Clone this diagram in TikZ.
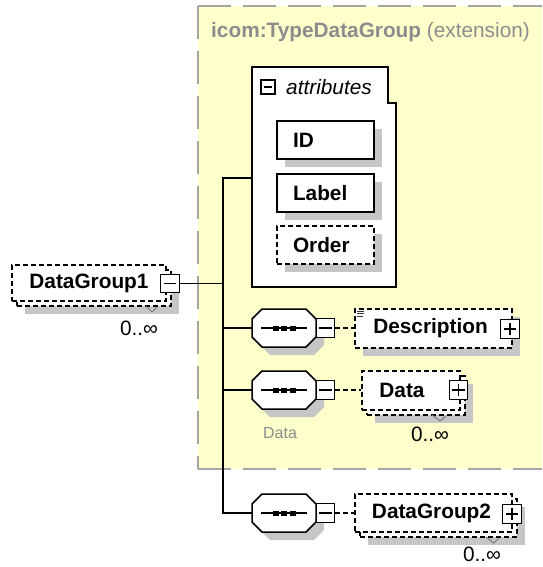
\documentclass[tikz,border=0pt]{standalone}
\usepackage{fontspec}
\setmainfont{Liberation Sans}
\usetikzlibrary{shadows}
\definecolor{ybg}{RGB}{255,255,204}
\definecolor{shd}{RGB}{198,198,198}
\definecolor{ttl}{RGB}{140,140,140}
\definecolor{brd}{RGB}{165,165,165}
\definecolor{tick}{RGB}{120,120,120}
\newcommand\mkseq[2]{%
  \node[minimum width=64pt,minimum height=38pt,inner sep=0pt] (#1) at (#2) {};
  \begin{scope}[shift={(#1.center)}]
    \fill[shd] (-14,-11) -- (30,-11) -- (40,-1) -- (40,17) -- (30,27) -- (-14,27) -- (-24,17) -- (-24,-1) -- cycle;
    \draw[line width=1.5pt, fill=white] (-22,-19) -- (22,-19) -- (32,-9) -- (32,9) -- (22,19) -- (-22,19) -- (-32,9) -- (-32,-9) -- cycle;
    \draw[line width=1.5pt] (-23,0) -- (23,0);
    \fill (-11.5,-2.5) rectangle (-5.5,2.5);
    \fill (-3,-2.5) rectangle (3,2.5);
    \fill (5.5,-2.5) rectangle (11.5,2.5);
  \end{scope}}
\begin{document}
\begin{tikzpicture}[x=1pt,y=-1pt, line join=miter,
  every node/.style={font=\fontsize{20.8}{24}\selectfont},
  conn/.style={line width=1.6pt},
  dconn/.style={line width=1.4pt, dash pattern=on 5pt off 3pt},
  bord/.style={draw=brd, line width=2pt, dash pattern=on 33pt off 12pt},
  shad/.style={general shadow={fill=shd, shadow xshift=8pt, shadow yshift=-8pt}},
  elem/.style={draw, line width=1.4pt, dash pattern=on 5pt off 3pt, fill=white, inner sep=0pt,
    font=\fontsize{20.8}{24}\selectfont\bfseries},
  attrb/.style={draw, line width=1.6pt, fill=white, inner ysep=0pt, inner xsep=16pt,
    text width=65pt, align=left, minimum height=38pt, font=\fontsize{20.8}{24}\selectfont\bfseries, shad},
  pmbox/.style={draw, fill=white, line width=1.4pt, minimum size=18.5pt, inner sep=0pt},
  minusb/.style={pmbox, path picture={\draw[line width=1.5pt] ([xshift=3pt]path picture bounding box.west) -- ([xshift=-3pt]path picture bounding box.east);}},
  plusb/.style={pmbox, path picture={\draw[line width=1.5pt] ([xshift=3pt]path picture bounding box.west) -- ([xshift=-3pt]path picture bounding box.east);
     \draw[line width=1.5pt] ([yshift=-3pt]path picture bounding box.north) -- ([yshift=3pt]path picture bounding box.south);}},
  mult/.style={font=\fontsize{20.8}{24}\selectfont, inner sep=0pt},
  tk/.style={draw=tick, line width=1pt}
]
\useasboundingbox (0,0) rectangle (542,567);
% extension area
\fill[ybg] (198,6) rectangle (542,469);
\draw[bord] (198,6) -- (542,6);
\draw[bord] (198,6) -- (198,469);
\draw[bord] (198,469) -- (542,469);
\node[anchor=west, text=ttl, inner sep=0pt] (title) at (211,32) {\textbf{icom:TypeDataGroup} (extension)};

% attributes container
\draw[line width=1.6pt, fill=white] (252,67) -- (388,67) -- (388,103) -- (396,103) -- (396,287) -- (252,287) -- cycle;
\node[minusb, minimum size=14pt] (am) at (268,87) {};
\node[anchor=west, font=\fontsize{20.8}{24}\selectfont\itshape, inner sep=0pt] (attrt) at (286,87) {attributes};
\node[attrb] (id) at (325.5,140) {ID};
\node[attrb] (label) at (325.5,193) {Label};
\node[attrb, dash pattern=on 5pt off 3pt] (order) at (325.5,245) {Order};
\coordinate (attrL) at (252,178);
\coordinate (trunk) at (223,178);

% DataGroup1
\node[elem, shad, minimum width=154pt, minimum height=36pt] (dg1b) at (94,288) {};
\node[elem, minimum width=154pt, minimum height=36pt] (dg1) at (89,283) {DataGroup1};
\node[minusb] (dg1m) at (170,283.5) {};
\draw[tk] (146,306) -- (152,312) -- (157,307);
\node[mult] (dg1c) at (139,328) {0..∞};

% sequences
\mkseq{s1}{284,328}
\mkseq{s2}{284,390}
\mkseq{s3}{284,513}
\node[minusb] (m1) at (325.5,328) {};
\node[minusb] (m2) at (325.5,390) {};
\node[minusb] (m3) at (325.5,513) {};
\node[text=ttl, font=\fontsize{16}{19}\selectfont, inner sep=0pt] (s2l) at (280,433) {Data};

% Description
\node[elem, shad, minimum width=157pt, minimum height=39pt] (desc) at (433.5,328.5) {Description\hspace*{6pt}};
\draw[line width=0.8pt, draw=black!80] (357,311) -- (364,311) (357,313.5) -- (364,313.5) (357,316) -- (363,316);
\node[plusb] (descp) at (510,329) {};

% Data
\node[elem, shad, minimum width=98pt, minimum height=39pt] (datab) at (416,395.5) {};
\node[elem, minimum width=98pt, minimum height=39pt] (data) at (411,390.5) {Data\hspace*{18pt}};
\node[plusb] (datap) at (458.5,390) {};
\draw[tk] (432,415) -- (440,421) -- (446,416);
\node[mult] (datac) at (430,434) {0..∞};

% DataGroup2
\node[elem, shad, minimum width=157pt, minimum height=38pt] (dg2b) at (438.5,518) {};
\node[elem, minimum width=157pt, minimum height=38pt] (dg2) at (433.5,513) {DataGroup2\hspace*{4pt}};
\node[plusb] (dg2p) at (512,514) {};
\draw[tk] (486,537) -- (494,543) -- (499,538);
\node[mult] (dg2c) at (482,554) {0..∞};

% connectors
\draw[conn] (attrL) -- (trunk) -- (trunk |- s3.west) -- (s3.west);
\draw[conn] (dg1m.east) -- (dg1m.east -| trunk);
\draw[conn] (trunk |- s1.west) -- (s1.west);
\draw[conn] (trunk |- s2.west) -- (s2.west);
\draw[dconn] (m1.east) -- (m1.east -| desc.west);
\draw[dconn] (m2.east) -- (m2.east -| data.west);
\draw[dconn] (m3.east) -- (m3.east -| dg2.west);
\end{tikzpicture}
\end{document}
